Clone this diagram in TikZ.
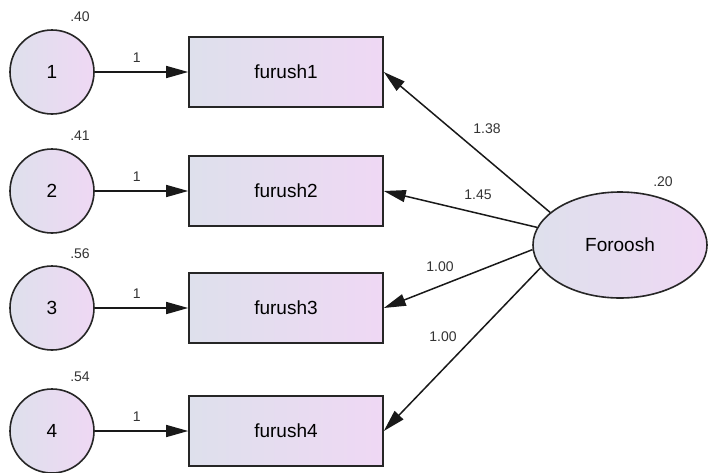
\documentclass[tikz,border=0pt]{standalone}
\usepackage{fontspec}
\setmainfont{Liberation Sans}
\usetikzlibrary{arrows.meta,shapes.geometric}
\begin{document}
\begin{tikzpicture}[x=1pt,y=-1pt,
  shapeline/.style={draw=black!85,line width=1.6pt},
  grad/.style={left color=lavA,right color=lavB},
  errc/.style={circle,shapeline,grad,minimum size=84pt,inner sep=0pt,font=\fontsize{19}{22}\selectfont},
  obs/.style={rectangle,shapeline,grad,minimum width=194pt,minimum height=70pt,inner sep=0pt,font=\fontsize{19}{22}\selectfont},
  lat/.style={ellipse,shapeline,grad,minimum width=174pt,minimum height=106pt,inner sep=0pt,font=\fontsize{19}{22}\selectfont},
  conn/.style={draw=black!90,line width=1.5pt,-{Triangle[length=22pt,width=12pt]}},
  lbl/.style={inner sep=0pt,font=\fontsize{14}{16}\selectfont,text=black!80}
]
\definecolor{lavA}{HTML}{DEE0EC}
\definecolor{lavB}{HTML}{EFD8F4}
\useasboundingbox[fill=white] (0,0) rectangle (709,472);

\node[errc] (c1) at (52,72) {1};
\node[errc] (c2) at (52,191) {2};
\node[errc] (c3) at (52,308) {3};
\node[errc] (c4) at (52,431) {4};

\node[obs] (r1) at (286,72) {furush1};
\node[obs] (r2) at (286,191) {furush2};
\node[obs] (r3) at (286,308) {furush3};
\node[obs] (r4) at (286,431) {furush4};

\node[lat] (e) at (620,245) {Foroosh};

\node[lbl] (v1) at (80,17) {.40};
\node[lbl] (v2) at (80,136) {.41};
\node[lbl] (v3) at (80,254) {.56};
\node[lbl] (v4) at (80,377) {.54};
\node[lbl] (ve) at (663,182) {.20};

\draw[conn] (c1) -- (r1.west) node[lbl,pos=0.45,above=9pt] (w1) {1};
\draw[conn] (c2) -- (r2.west) node[lbl,pos=0.45,above=9pt] (w2) {1};
\draw[conn] (c3) -- (r3.west) node[lbl,pos=0.45,above=9pt] (w3) {1};
\draw[conn] (c4) -- (r4.west) node[lbl,pos=0.45,above=9pt] (w4) {1};

\draw[conn] (e.155) -- (r1.east);
\draw[conn] (e.168) -- (r2.east);
\draw[conn] (e.183) -- (r3.east);
\draw[conn] (e.196) -- (r4.east);

\node[lbl] (l1) at (487,129) {1.38};
\node[lbl] (l2) at (478,195) {1.45};
\node[lbl] (l3) at (440,267) {1.00};
\node[lbl] (l4) at (443,337) {1.00};
\end{tikzpicture}
\end{document}
